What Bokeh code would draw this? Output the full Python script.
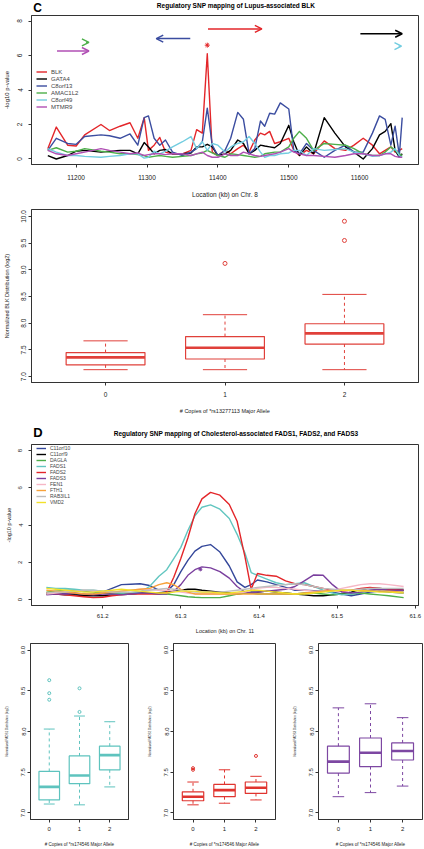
from bokeh.plotting import figure
from bokeh.layouts import column, row
from bokeh.models import (Range1d, FixedTicker, NumeralTickFormatter, Legend, LegendItem,
                          Arrow, OpenHead)
from bokeh.core.properties import value
from bokeh.embed import file_html
from bokeh.resources import INLINE

FONT = "Liberation Sans"

# ---------------- Panel C : lupus / BLK ----------------
c_letter = "C"
c_title = "Regulatory SNP mapping of Lupus-associated BLK"
c_pos = [11160, 11172, 11188, 11200, 11212, 11235, 11247, 11262, 11276, 11287, 11296, 11302, 11310,
         11318, 11326, 11336, 11350, 11362, 11370, 11378, 11385, 11392, 11400, 11410, 11418, 11428,
         11436, 11444, 11452, 11460, 11466, 11473, 11480, 11488, 11500, 11507, 11515, 11525, 11535,
         11550, 11565, 11580, 11592, 11605, 11618, 11628, 11636, 11644, 11650, 11656, 11660]
c_names = ["BLK", "GATA4", "C8orf13", "AMAC1L2", "C8orf49", "MTMR9"]
c_colors = ["#E3262A", "#000000", "#3B4DA0", "#4DAF4A", "#73CDE0", "#B04FB4"]
blk = [0.6, 1.85, 0.8, 0.75, 1.4, 2.0, 1.65, 1.9, 2.1, 1.2, 2.4, 0.5, 0.8, 1.25, 0.4, 0.3, 0.3, 0.5,
       1.7, 1.5, 6.1, 0.4, 0.2, 0.5, 0.3, 0.6, 0.8, 0.4, 1.1, 1.5, 1.4, 1.6, 0.9, 1.0, 1.2, 0.5, 0.2,
       0.5, 0.3, 1.05, 0.6, 0.5, 0.8, 1.2, 0.8, 0.3, 0.5, 0.7, 0.4, 0.5, 0.6]
gata4 = [0.2, 0.0, 0.2, 0.45, 0.5, 0.4, 0.45, 0.5, 0.5, 0.3, 0.95, 0.7, 0.3, 0.5, 0.55, 0.3, 0.3, 0.35,
         0.7, 0.7, 0.85, 0.7, 0.2, 0.3, 0.5, 1.1, 0.9, 0.3, 0.5, 0.8, 0.75, 0.7, 0.65, 0.9, 1.95, 1.0,
         0.2, 0.7, 0.3, 2.4, 1.5, 0.7, 0.4, 0.0, 0.6, 1.4, 1.6, 2.05, 0.5, 0.1, 0.3]
c8orf13 = [0.5, 1.2, 0.9, 0.85, 1.3, 1.4, 1.35, 1.2, 1.45, 0.8, 2.4, 2.5, 1.2, 0.8, 1.1, 0.4, 0.2, 0.4,
           0.6, 1.0, 2.95, 0.8, 0.2, 0.5, 1.2, 2.7, 2.3, 0.3, 0.6, 2.2, 1.9, 2.65, 2.6, 3.25, 2.9, 0.5,
           0.3, 0.9, 0.5, 0.1, 0.5, 0.8, 0.4, 0.4, 1.5, 2.5, 2.3, 0.8, 1.9, 0.2, 2.4]
amac1l2 = [0.5, 0.65, 0.4, 0.45, 0.6, 0.45, 0.4, 0.3, 0.3, 0.25, 0.2, 0.1, 0.15, 0.2, 0.15, 0.1, 0.15,
           0.2, 0.3, 0.35, 0.5, 0.35, 0.2, 0.1, 0.3, 0.25, 0.2, 0.15, 0.1, 0.15, 0.3, 0.35, 0.4, 0.4,
           0.7, 1.2, 1.6, 1.2, 0.5, 0.9, 0.85, 0.8, 0.6, 0.3, 0.2, 0.2, 0.4, 0.7, 0.5, 0.3, 0.2]
c8orf49 = [0.6, 0.4, 0.2, 0.2, 0.15, 0.1, 0.15, 0.2, 0.3, 0.3, 0.05, 0.1, 0.45, 0.3, 0.45, 0.7, 1.0,
           1.3, 0.6, 1.0, 0.5, 0.9, 0.8, 0.4, 0.7, 0.9, 1.0, 1.3, 0.9, 0.4, 0.1, 0.2, 0.2, 0.3, 0.35,
           0.5, 0.5, 0.2, 0.6, 0.5, 0.55, 0.6, 0.4, 0.3, 0.15, 0.2, 0.3, 0.4, 0.6, 0.2, 0.1]
mtmr9 = [0.5, 0.3, 0.2, 0.3, 0.4, 0.6, 0.5, 0.4, 0.3, 0.35, 0.2, 0.25, 0.3, 0.3, 0.25, 0.3, 0.3, 0.2,
         0.3, 0.4, 0.2, 0.1, 0.1, 0.3, 0.2, 0.2, 0.4, 0.3, 0.2, 0.15, 0.2, 0.25, 0.3, 0.4, 0.6, 0.4,
         0.3, 0.2, 0.2, 0.15, 0.1, 0.2, 0.3, 0.3, 0.2, 0.2, 0.3, 0.3, 0.15, 0.1, 0.1]
c_series = [blk, gata4, c8orf13, amac1l2, c8orf49, mtmr9]
c_xticks = [11200, 11300, 11400, 11500, 11600]
c_yticks = [0, 2, 4, 6, 8]
# gene arrows (start kb, end kb, height, colour index)
gene_start = [11173, 11214, 11361, 11386, 11601, 11655]
gene_end = [11218, 11218, 11313, 11462, 11660, 11659]
gene_y = [6.26, 6.76, 6.98, 7.54, 7.26, 6.54]
gene_col = [5, 3, 2, 0, 1, 4]
star_x = [11385]
star_y = [6.6]

# BLK expression box plot
blk_geno = [0, 1, 2]
blk_low = [7.13, 7.13, 7.13]
blk_q1 = [7.22, 7.33, 7.61]
blk_med = [7.36, 7.54, 7.81]
blk_q3 = [7.45, 7.75, 7.99]
blk_high = [7.67, 8.16, 8.54]
blk_out_x = [1, 2, 2]
blk_out_y = [9.12, 9.91, 9.55]

# ---------------- Panel D : cholesterol / FADS ----------------
d_letter = "D"
d_title = "Regulatory SNP mapping of Cholesterol-associated FADS1, FADS2, and FADS3"
d_pos = [61.128, 61.140, 61.152, 61.164, 61.176, 61.188, 61.200, 61.212, 61.224, 61.236, 61.248,
         61.260, 61.272, 61.282, 61.291, 61.300, 61.309, 61.318, 61.327, 61.338, 61.350, 61.362,
         61.372, 61.382, 61.390, 61.398, 61.410, 61.422, 61.434, 61.446, 61.458, 61.470, 61.482,
         61.494, 61.506, 61.518, 61.530, 61.542, 61.554, 61.566, 61.585]
d_names = ["C11orf10", "C11orf9", "DAGLA", "FADS1", "FADS2", "FADS3", "FEN1", "FTH1", "RAB3IL1", "VMD2"]
d_colors = ["#34479A", "#000000", "#4DAF4A", "#62C6C0", "#E3262A", "#7A3F9E", "#F6B7C6", "#F7A23A",
            "#BDBDBD", "#F2E12A"]
c11orf10 = [0.3, 0.3, 0.35, 0.3, 0.25, 0.3, 0.4, 0.6, 0.8, 0.82, 0.85, 0.75, 0.5, 0.45, 0.8, 1.5, 2.1,
            2.6, 2.85, 2.95, 2.55, 1.8, 0.95, 0.65, 0.8, 1.05, 0.95, 0.8, 0.65, 0.5, 0.5, 0.48, 0.45,
            0.4, 0.3, 0.2, 0.3, 0.4, 0.45, 0.4, 0.35]
c11orf9 = [0.3, 0.3, 0.25, 0.25, 0.2, 0.2, 0.2, 0.25, 0.3, 0.3, 0.35, 0.35, 0.35, 0.4, 0.45, 0.5, 0.55,
           0.55, 0.5, 0.45, 0.4, 0.35, 0.3, 0.35, 0.4, 0.4, 0.45, 0.4, 0.35, 0.3, 0.25, 0.2, 0.2, 0.25,
           0.3, 0.4, 0.55, 0.6, 0.6, 0.55, 0.5]
dagla = [0.4, 0.45, 0.5, 0.5, 0.45, 0.4, 0.35, 0.3, 0.3, 0.3, 0.35, 0.35, 0.3, 0.3, 0.25, 0.2, 0.15,
         0.12, 0.1, 0.1, 0.1, 0.2, 0.3, 0.35, 0.35, 0.3, 0.3, 0.3, 0.3, 0.3, 0.35, 0.35, 0.3, 0.25, 0.3,
         0.3, 0.35, 0.3, 0.25, 0.2, 0.1]
fads1 = [0.65, 0.6, 0.6, 0.55, 0.5, 0.5, 0.45, 0.4, 0.35, 0.35, 0.4, 0.7, 1.25, 1.6, 2.2, 2.8, 3.7,
         4.5, 4.95, 5.08, 4.85, 4.35, 3.5, 2.5, 1.45, 1.3, 1.1, 0.9, 0.8, 0.85, 0.9, 0.7, 0.5, 0.35,
         0.25, 0.3, 0.4, 0.5, 0.55, 0.5, 0.45]
fads2 = [0.35, 0.3, 0.25, 0.2, 0.15, 0.1, 0.12, 0.2, 0.25, 0.3, 0.3, 0.3, 0.3, 0.4, 1.2, 2.2, 3.3, 4.6,
         5.4, 5.75, 5.6, 5.1, 4.2, 2.3, 0.55, 1.4, 1.3, 1.25, 1.0, 0.85, 0.8, 0.7, 0.6, 0.5, 0.45, 0.5,
         0.6, 0.65, 0.6, 0.55, 0.5]
fads3 = [0.25, 0.3, 0.3, 0.35, 0.3, 0.25, 0.3, 0.3, 0.25, 0.3, 0.35, 0.35, 0.3, 0.3, 0.45, 0.8, 1.3,
         1.6, 1.75, 1.7, 1.5, 1.15, 0.7, 0.4, 0.35, 0.4, 0.45, 0.5, 0.55, 0.7, 1.0, 1.32, 1.3, 0.8, 0.4,
         0.35, 0.4, 0.5, 0.55, 0.5, 0.5]
fen1 = [0.3, 0.35, 0.4, 0.45, 0.5, 0.45, 0.4, 0.4, 0.45, 0.5, 0.55, 0.55, 0.5, 0.5, 0.45, 0.4, 0.35,
        0.3, 0.3, 0.3, 0.3, 0.3, 0.35, 0.4, 0.5, 0.6, 0.65, 0.65, 0.6, 0.55, 0.5, 0.45, 0.45, 0.5, 0.6,
        0.7, 0.8, 0.85, 0.85, 0.8, 0.7]
fth1 = [0.5, 0.45, 0.4, 0.35, 0.3, 0.3, 0.35, 0.4, 0.45, 0.5, 0.55, 0.6, 0.8, 0.9, 0.8, 0.55, 0.4, 0.3,
        0.3, 0.3, 0.3, 0.3, 0.3, 0.3, 0.3, 0.3, 0.3, 0.3, 0.3, 0.3, 0.35, 0.4, 0.45, 0.5, 0.5, 0.5,
        0.5, 0.45, 0.45, 0.45, 0.4]
rab3il1 = [0.35, 0.4, 0.4, 0.45, 0.5, 0.5, 0.45, 0.4, 0.4, 0.4, 0.45, 0.5, 0.55, 0.6, 0.55, 0.5, 0.45,
           0.4, 0.4, 0.4, 0.4, 0.45, 0.5, 0.55, 0.6, 0.65, 0.7, 0.75, 0.8, 0.85, 0.8, 0.7, 0.6, 0.55,
           0.5, 0.5, 0.55, 0.6, 0.6, 0.6, 0.6]
vmd2 = [0.6, 0.55, 0.5, 0.45, 0.4, 0.4, 0.45, 0.5, 0.55, 0.5, 0.45, 0.4, 0.35, 0.35, 0.4, 0.45, 0.45,
        0.45, 0.4, 0.4, 0.35, 0.35, 0.4, 0.45, 0.5, 0.5, 0.45, 0.4, 0.35, 0.3, 0.3, 0.35, 0.4, 0.45,
        0.5, 0.5, 0.45, 0.45, 0.4, 0.4, 0.35]
d_series = [c11orf10, c11orf9, dagla, fads1, fads2, fads3, fen1, fth1, rab3il1, vmd2]
d_xticks = [61.2, 61.3, 61.4, 61.5, 61.6]
d_yticks = [0, 2, 4, 6, 8]
d_star_x = [61.325]
d_star_y = [1.62]

geno = [0, 1, 2]
fads1_low = [7.11, 7.10, 7.32]
fads1_q1 = [7.16, 7.36, 7.53]
fads1_med = [7.32, 7.46, 7.71]
fads1_q3 = [7.51, 7.70, 7.82]
fads1_high = [8.03, 8.19, 8.12]
fads1_out_x = [0, 0, 0, 1, 1]
fads1_out_y = [8.63, 8.47, 8.39, 8.53, 8.24]

fads2_low = [7.10, 7.12, 7.16]
fads2_q1 = [7.15, 7.20, 7.24]
fads2_med = [7.20, 7.28, 7.31]
fads2_q3 = [7.26, 7.35, 7.38]
fads2_high = [7.38, 7.53, 7.45]
fads2_out_x = [0, 0, 2]
fads2_out_y = [7.55, 7.53, 7.70]

fads3_low = [7.20, 7.25, 7.33]
fads3_q1 = [7.49, 7.57, 7.65]
fads3_med = [7.63, 7.74, 7.76]
fads3_q3 = [7.82, 7.92, 7.86]
fads3_high = [8.29, 8.34, 8.17]
fads3_out_x = []
fads3_out_y = []

box_yticks_c = [7.0, 7.5, 8.0, 8.5, 9.0, 9.5, 10.0]
box_yticks_d = [7.0, 7.5, 8.0, 8.5, 9.0]

AX = "#333333"
W = 424


def make_fig(w, h, xr, yr, bl, br, bt, bb):
    p = figure(width=w, height=h, x_range=Range1d(*xr), y_range=Range1d(*yr),
               output_backend="svg", toolbar_location=None,
               min_border_left=bl, min_border_right=br, min_border_top=bt, min_border_bottom=bb)
    p.xgrid.visible = False
    p.ygrid.visible = False
    p.outline_line_color = AX
    p.outline_line_alpha = 1
    p.outline_line_width = 1
    p.background_fill_color = "white"
    p.border_fill_color = "white"
    for ax in (p.xaxis[0], p.yaxis[0]):
        ax.axis_line_color = AX
        ax.major_tick_line_color = AX
        ax.major_tick_out = 3
        ax.major_tick_in = 0
        ax.minor_tick_line_color = None
        ax.major_label_text_font = FONT
        ax.axis_label_text_font = FONT
        ax.axis_label_text_font_style = "normal"
        ax.major_label_text_color = "#222222"
        ax.axis_label_text_color = "#222222"
    p.yaxis.major_label_orientation = "vertical"
    return p


def make_header(h, letter, letter_size, letter_y, title, title_x, title_y):
    """Strip above a panel holding the panel letter and the bold heading (pixel space)."""
    p = figure(width=W, height=h, x_range=Range1d(0, W), y_range=Range1d(h, 0),
               output_backend="svg", toolbar_location=None,
               min_border_left=0, min_border_right=0, min_border_top=0, min_border_bottom=0)
    p.axis.visible = False
    p.grid.visible = False
    p.outline_line_color = None
    p.background_fill_color = "white"
    p.border_fill_color = "white"
    p.text(x=[2], y=[letter_y], text=[letter], text_font=value(FONT), text_font_size=letter_size,
           text_font_style="bold", text_align="left", text_baseline="middle", text_color="black")
    p.text(x=[title_x], y=[title_y], text=[title], text_font=value(FONT), text_font_size="6.5px",
           text_font_style="bold", text_align="center", text_baseline="middle", text_color="black")
    return p


def style_axes(p, xticks, yticks, xfmt, yfmt, tick_size, xlab, ylab, xlab_size, ylab_size,
               xs=(6, 7), ys=(6, 5)):
    p.xaxis.ticker = FixedTicker(ticks=xticks)
    p.yaxis.ticker = FixedTicker(ticks=yticks)
    p.xaxis.formatter = NumeralTickFormatter(format=xfmt)
    p.yaxis.formatter = NumeralTickFormatter(format=yfmt)
    p.xaxis.major_label_text_font_size = tick_size
    p.yaxis.major_label_text_font_size = tick_size
    p.xaxis.axis_label = xlab
    p.yaxis.axis_label = ylab
    p.xaxis.axis_label_text_font_size = xlab_size
    p.yaxis.axis_label_text_font_size = ylab_size
    p.xaxis.major_label_standoff = xs[0]
    p.xaxis.axis_label_standoff = xs[1]
    p.yaxis.major_label_standoff = ys[0]
    p.yaxis.axis_label_standoff = ys[1]


def draw_box(p, pos, low, q1, med, q3, high, ox, oy, color, w=0.66, cap=0.36, osize=4):
    left = [x - w / 2 for x in pos]
    right = [x + w / 2 for x in pos]
    p.quad(left=left, right=right, bottom=q1, top=q3, fill_color=None,
           line_color=color, line_width=1.2)
    p.segment(x0=left, y0=med, x1=right, y1=med, line_color=color, line_width=2.6)
    p.segment(x0=pos, y0=q3, x1=pos, y1=high, line_color=color, line_width=1, line_dash="3 3")
    p.segment(x0=pos, y0=q1, x1=pos, y1=low, line_color=color, line_width=1, line_dash="3 3")
    cl = [x - cap / 2 for x in pos]
    cr = [x + cap / 2 for x in pos]
    p.segment(x0=cl, y0=high, x1=cr, y1=high, line_color=color, line_width=1)
    p.segment(x0=cl, y0=low, x1=cr, y1=low, line_color=color, line_width=1)
    if ox:
        p.scatter(ox, oy, marker="circle", size=osize, fill_color=None, line_color=color,
                  line_width=1)


# ---------- header C ----------
h1 = make_header(14, c_letter, "12px", 7, c_title, 224, 4.5)

# ---------- figure 1 : panel C lines ----------
p1 = make_fig(W, 186, (11137, 11683), (-0.32, 8.32), 30, 6, 1, 32)
style_axes(p1, c_xticks, c_yticks, "0", "0", "6.5px", "Location (kb) on Chr. 8", "-log10 p-value",
           "6.5px", "6px", xs=(7, 8), ys=(6, 5))
items = []
for name, ser, col in zip(c_names, c_series, c_colors):
    r = p1.line(c_pos, ser, line_color=col, line_width=1.4, line_join="round")
    items.append(LegendItem(label=name, renderers=[r]))
for xs_, xe_, y_, ci in zip(gene_start, gene_end, gene_y, gene_col):
    col = c_colors[ci]
    p1.add_layout(Arrow(end=OpenHead(size=7, line_color=col, line_width=1.5),
                        x_start=xs_, y_start=y_, x_end=xe_, y_end=y_,
                        line_color=col, line_width=1.5))
p1.scatter(star_x, star_y, marker="asterisk", size=5, line_color=c_colors[0], line_width=1)
leg1 = Legend(items=items, location=(5, 54), label_text_font=FONT, label_text_font_size="6px",
              label_height=7, glyph_height=7, glyph_width=11, spacing=0, padding=0, margin=0,
              label_standoff=4, border_line_color=None, background_fill_alpha=0)
p1.add_layout(leg1)

# ---------- figure 2 : panel C box ----------
p2 = make_fig(W, 220, (-0.62, 2.62), (6.89, 10.13), 30, 6, 9, 38)
style_axes(p2, geno, box_yticks_c, "0", "0.0", "6.5px", "# Copies of *rs13277113 Major Allele",
           "Normalized BLK Distribution (log2)", "5.5px", "5.5px", xs=(6, 8), ys=(2, 9))
draw_box(p2, blk_geno, blk_low, blk_q1, blk_med, blk_q3, blk_high, blk_out_x, blk_out_y,
         "#E0403A", w=0.66, cap=0.37, osize=4)

# ---------- header D ----------
h3 = make_header(23, d_letter, "13px", 12, d_title, 224, 13)

# ---------- figure 3 : panel D lines ----------
p3 = make_fig(W, 193, (61.109, 61.604), (-0.32, 8.32), 30, 6, 1, 28)
style_axes(p3, d_xticks, d_yticks, "0.0", "0", "6px", "Location (kb) on Chr. 11", "-log10 p-value",
           "5.5px", "5.5px", xs=(5, 7), ys=(6, 4))
items3 = []
for name, ser, col in zip(d_names, d_series, d_colors):
    r = p3.line(d_pos, ser, line_color=col, line_width=1.4, line_join="round")
    items3.append(LegendItem(label=name, renderers=[r]))
p3.scatter(d_star_x, d_star_y, marker="asterisk", size=4, line_color=d_colors[5], line_width=1)
leg3 = Legend(items=items3, location=(5, 100), label_text_font=FONT, label_text_font_size="5px",
              label_height=6, glyph_height=6, glyph_width=10, spacing=0, padding=0, margin=0,
              label_standoff=4, border_line_color=None, background_fill_alpha=0)
p3.add_layout(leg3)

# ---------- figures 4-6 : FADS boxes ----------
box_specs = [
    ("FADS1", fads1_low, fads1_q1, fads1_med, fads1_q3, fads1_high, fads1_out_x, fads1_out_y,
     "#5EC3BE", 145, 30, 17),
    ("FADS2", fads2_low, fads2_q1, fads2_med, fads2_q3, fads2_high, fads2_out_x, fads2_out_y,
     "#E0342F", 145, 25, 15),
    ("FADS3", fads3_low, fads3_q1, fads3_med, fads3_q3, fads3_high, fads3_out_x, fads3_out_y,
     "#7D47A2", 134, 26, 2),
]
row_figs = []
for gname, lo, q1, md, q3, hi, ox, oy, col, w, bl, br in box_specs:
    pb = make_fig(w, 213, (-0.62, 2.62), (6.92, 9.08), bl, br, 7, 27)
    style_axes(pb, geno, box_yticks_d, "0", "0.0", "6px", "# Copies of *rs174546 Major Allele",
               "Normalized %s Distribution (log2)" % gname, "4.5px", "3px", xs=(4, 8), ys=(2, 10))
    draw_box(pb, geno, lo, q1, md, q3, hi, ox, oy, col, w=0.68, cap=0.36, osize=3)
    row_figs.append(pb)

layout = column(h1, p1, p2, h3, p3, row(*row_figs))
open("out.html", "w").write(file_html(layout, INLINE))
